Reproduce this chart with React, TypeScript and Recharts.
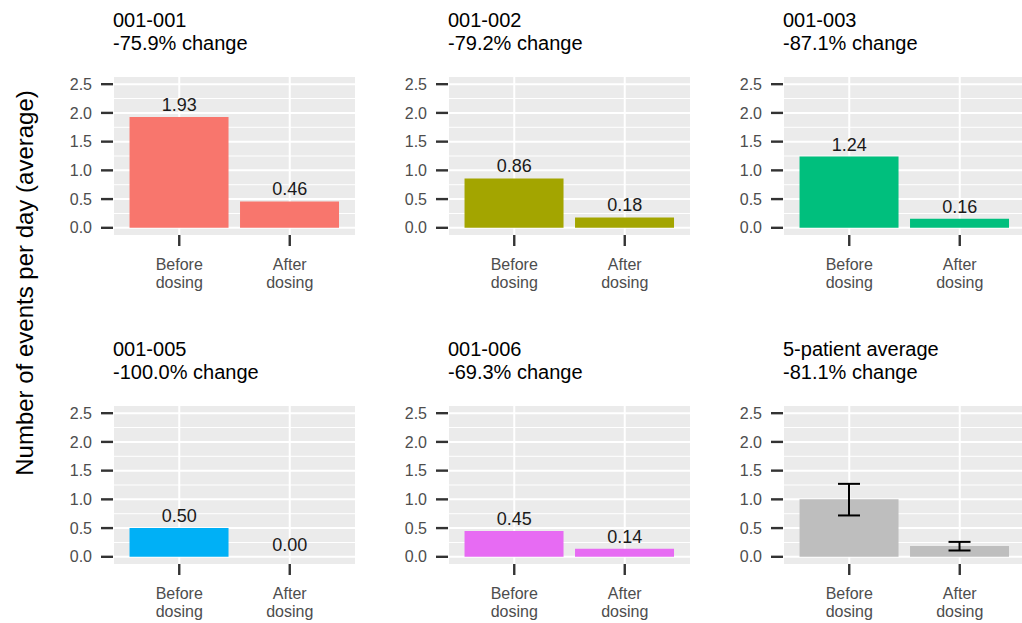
import React from "react";
import {
  ComposedChart,
  Bar,
  Line,
  XAxis,
  YAxis,
  CartesianGrid,
  LabelList,
  ErrorBar,
} from "recharts";

// facet data
const phases = ["Before dosing", "After dosing"];
const panelIds = ["001-001", "001-002", "001-003", "001-005", "001-006", "5-patient average"];
const panelChanges = [
  "-75.9% change",
  "-79.2% change",
  "-87.1% change",
  "-100.0% change",
  "-69.3% change",
  "-81.1% change",
];
const beforeValues = [1.93, 0.86, 1.24, 0.5, 0.45, 1.0];
const afterValues = [0.46, 0.18, 0.16, 0.0, 0.14, 0.19];
const barColors = ["#F8766D", "#A3A500", "#00BF7D", "#00B0F6", "#E76BF3", "#BEBEBE"];
// error bar bounds for the average panel (before, after)
const avgErrLow = [0.72, 0.11];
const avgErrHigh = [1.27, 0.26];

const yTicks = [0, 0.5, 1, 1.5, 2, 2.5];
const yMinor = [0.25, 0.75, 1.25, 1.75, 2.25];

const FONT = '"Liberation Sans", Arial, Helvetica, sans-serif';
const colLeft = [113, 448, 783];
const rowTop = [77, 406];
const PLOT_W = 243;
const PLOT_H = 158;
const Y_W = 60;

const XTick = (props: any) => {
  const { x, y, payload } = props;
  const words = String(payload.value).split(" ");
  return (
    <text x={x} y={y} textAnchor="middle" fill="#4D4D4D" fontSize={16} fontFamily={FONT}>
      <tspan x={x} dy={22}>{words[0]}</tspan>
      <tspan x={x} dy={18}>{words[1]}</tspan>
    </text>
  );
};

const Panel = ({ idx }: { idx: number }) => {
  const isAvg = idx === 5;
  const data = phases.map((phase, i) => {
    const value = i === 0 ? beforeValues[idx] : afterValues[idx];
    return {
      phase,
      value,
      err: isAvg ? [value - avgErrLow[i], avgErrHigh[i] - value] : undefined,
    };
  });
  const left = colLeft[idx % 3];
  const top = rowTop[Math.floor(idx / 3)];

  return (
    <>
      <div
        style={{
          position: "absolute",
          left,
          top: top - 68.5,
          fontSize: 20,
          lineHeight: "23px",
          color: "#000",
          whiteSpace: "nowrap",
        }}
      >
        <div>{panelIds[idx]}</div>
        <div>{panelChanges[idx]}</div>
      </div>
      <div style={{ position: "absolute", left: left - Y_W, top: top - 10 }}>
        <ComposedChart
          width={Y_W + PLOT_W}
          height={10 + PLOT_H + 62}
          data={data}
          margin={{ top: 10, right: 0, bottom: 0, left: 0 }}
          barCategoryGap="5%"
        >
          <CartesianGrid
            fill="#EBEBEB"
            stroke="#FFFFFF"
            strokeWidth={2}
            horizontalValues={yTicks}
          />
          <CartesianGrid
            stroke="#FFFFFF"
            strokeWidth={1}
            vertical={false}
            horizontalValues={yMinor}
          />
          <XAxis
            dataKey="phase"
            interval={0}
            height={62}
            padding={{ left: 11, right: 11 }}
            axisLine={false}
            tickSize={11}
            tickLine={{ stroke: "#333333", strokeWidth: 2.4 }}
            tick={<XTick />}
          />
          <YAxis
            width={Y_W}
            domain={[-0.125, 2.625]}
            allowDataOverflow
            ticks={yTicks}
            tickFormatter={(v: number) => v.toFixed(1)}
            axisLine={false}
            tickSize={12}
            tickMargin={9}
            tickLine={{ stroke: "#333333", strokeWidth: 2.4 }}
            tick={{ fill: "#4D4D4D", fontSize: 16, fontFamily: FONT }}
          />
          <Bar dataKey="value" fill={barColors[idx]} isAnimationActive={false}>
            {isAvg && (
              <ErrorBar
                dataKey="err"
                direction="y"
                width={11}
                stroke="#000000"
                strokeWidth={2}
                isAnimationActive={false}
              />
            )}
          </Bar>
          {/* invisible line carries the value labels so a zero bar still gets one */}
          {!isAvg && (
            <Line
              dataKey="value"
              stroke="none"
              dot={false}
              activeDot={false}
              isAnimationActive={false}
            >
              <LabelList
                dataKey="value"
                position="top"
                offset={6}
                formatter={(v: any) => Number(v).toFixed(2)}
                fill="#1A1A1A"
                fontSize={18}
                fontFamily={FONT}
              />
            </Line>
          )}
        </ComposedChart>
      </div>
    </>
  );
};

export default function App() {
  return (
    <div
      style={{
        position: "absolute",
        left: 0,
        top: 0,
        width: 1022,
        height: 623,
        overflow: "hidden",
        background: "#FFFFFF",
        fontFamily: FONT,
      }}
    >
      <svg width={50} height={623} style={{ position: "absolute", left: 0, top: 0 }}>
        <text
          x={24}
          y={283}
          transform="rotate(-90, 24, 283)"
          textAnchor="middle"
          dominantBaseline="central"
          fontSize={24}
          fontFamily={FONT}
          fill="#000"
        >
          Number of events per day (average)
        </text>
      </svg>
      {panelIds.map((_, i) => (
        <Panel key={i} idx={i} />
      ))}
    </div>
  );
}
